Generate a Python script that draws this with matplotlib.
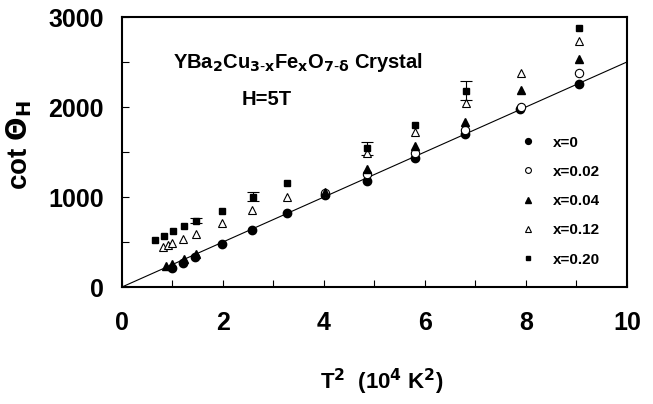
import matplotlib.pyplot as plt
import numpy as np

plt.rcParams['font.family'] = ['Liberation Sans', 'DejaVu Sans']

# x = 0 (filled circles)
t2_x0 = [0.99, 1.21, 1.45, 1.98, 2.58, 3.27, 4.03, 4.86, 5.80, 6.80, 7.89, 9.06]
cot_x0 = [210, 263, 330, 478, 633, 826, 1022, 1174, 1437, 1700, 1978, 2256]

# x = 0.02 (open circles)
t2_x002 = [4.03, 4.86, 5.80, 6.80, 7.90, 9.06]
cot_x002 = [1040, 1255, 1492, 1744, 1995, 2381]

# x = 0.04 (filled triangles)
t2_x004 = [0.88, 0.99, 1.23, 1.47, 4.03, 4.86, 5.80, 6.80, 7.90, 9.06]
cot_x004 = [233, 252, 307, 367, 1060, 1307, 1567, 1837, 2189, 2530]

# x = 0.12 (open triangles)
t2_x012 = [0.82, 0.92, 0.99, 1.21, 1.47, 1.98, 2.58, 3.27, 4.86, 5.80, 6.82, 7.90, 9.06]
cot_x012 = [441, 467, 485, 530, 585, 715, 856, 996, 1490, 1719, 2041, 2381, 2737]

# x = 0.20 (filled squares)
t2_x020 = [0.65, 0.83, 1.02, 1.23, 1.47, 1.98, 2.60, 3.27, 4.86, 5.80, 6.82, 9.06]
cot_x020 = [522, 567, 626, 674, 737, 844, 1004, 1156, 1541, 1800, 2181, 2874]
err_x020 = [0, 0, 0, 0, 30, 0, 48, 0, 75, 0, 108, 0]

slope = 250.0  # linear fit through origin

fig = plt.figure(figsize=(6.53, 4.04), dpi=100)
ax = fig.add_axes([0.1868, 0.2896, 0.7732, 0.6683])

xl = np.linspace(0, 10, 50)
ax.plot(xl, slope * xl, color='black', lw=0.8, zorder=1)

# error bars only where given
eb = [(t, c, e) for t, c, e in zip(t2_x020, cot_x020, err_x020) if e > 0]
ax.errorbar([p[0] for p in eb], [p[1] for p in eb], yerr=[p[2] for p in eb],
            fmt='none', ecolor='black', elinewidth=0.8, capsize=4, capthick=0.8, zorder=2)

ax.plot(t2_x0, cot_x0, 'o', color='black', ms=6, ls='none', label='x=0', zorder=3)
ax.plot(t2_x002, cot_x002, 'o', mfc='white', mec='black', mew=0.8, ms=6, ls='none',
        label='x=0.02', zorder=3)
ax.plot(t2_x004, cot_x004, '^', color='black', ms=6, ls='none', label='x=0.04', zorder=3)
ax.plot(t2_x012, cot_x012, '^', mfc='white', mec='black', mew=0.8, ms=6, ls='none',
        label='x=0.12', zorder=3)
ax.plot(t2_x020, cot_x020, 's', color='black', ms=4.5, ls='none', label='x=0.20', zorder=3)

ax.set_xlim(0, 10)
ax.set_ylim(0, 3000)
ax.set_xticks([0, 2, 4, 6, 8, 10])
ax.set_xticks([1, 3, 5, 7, 9], minor=True)
ax.set_yticks([0, 1000, 2000, 3000])
ax.set_yticks([500, 1500, 2500], minor=True)
ax.tick_params(which='both', direction='in', length=5, width=0.8, top=False, right=False)
ax.tick_params(axis='x', which='major', labelsize=18, pad=17)
ax.tick_params(axis='y', which='major', labelsize=18, pad=13)
for lab in ax.get_xticklabels() + ax.get_yticklabels():
    lab.set_fontweight('bold')
for sp in ax.spines.values():
    sp.set_linewidth(1.5)

ax.set_ylabel(r'cot $\mathbf{\Theta}_\mathbf{H}$', fontsize=20, fontweight='bold')
ax.yaxis.set_label_coords(-0.175, 0.526)
fig.text(0.585, 0.055, r'T$^\mathbf{2}$  (10$^\mathbf{4}$ K$^\mathbf{2}$)', fontsize=16,
         fontweight='bold', ha='center', va='center')

ax.text(1.01, 2489, r'YBa$_\mathbf{2}$Cu$_\mathbf{3\text{-}x}$Fe$_\mathbf{x}$O$_\mathbf{7\text{-}\delta}$ Crystal',
        fontsize=14.5, fontweight='bold', va='center', ha='left')
ax.text(2.87, 2078, 'H=5T', fontsize=14.5, fontweight='bold', va='center', ha='center')

leg = ax.legend(loc='upper left', bbox_to_anchor=(0.746, 0.612), frameon=False,
                markerscale=0.7, labelspacing=1.0, handletextpad=0.65,
                prop={'weight': 'bold', 'size': 11})

fig.savefig('out.png', dpi=100)
